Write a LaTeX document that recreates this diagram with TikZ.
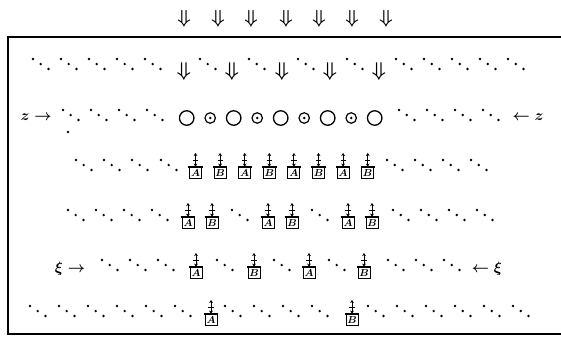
\documentclass[tikz,border=0pt]{standalone}
\usepackage{graphicx}
\usetikzlibrary{arrows.meta}
\begin{document}
\begin{tikzpicture}[x=1pt,y=-1pt,
  frame/.style={line width=1.1pt},
  dotg/.pic={\fill (0,0) circle (1.3) (7.7,5) circle (1.3) (15.5,10) circle (1.3);},
  gate/.pic={
    \draw[line width=1pt] (-6,0) rectangle (6,11.5);
    \draw[line width=1.1pt] (-7.2,0) -- (7.2,0);
    \draw[line width=0.9pt,-{Stealth[length=3pt,width=3.8pt]}] (0,-7) -- (0,-0.4);
    \draw[line width=0.9pt,-{Stealth[length=3pt,width=3.8pt]}] (0,-7) -- (0,-14);
    \draw[line width=0.9pt] (-2.6,-7) -- (2.6,-7);
    \node[inner sep=0pt] at (0,6) {\scalebox{1.12}{\boldmath\small$#1$}};},
  bigc/.style={circle,draw,line width=1.3pt,minimum size=14.5pt,inner sep=0pt},
  smallc/.style={circle,draw,line width=1.2pt,minimum size=10.5pt,inner sep=0pt},
  lbl/.style={inner sep=0pt},
  darr/.style={inner sep=0pt}]
\useasboundingbox (0,0) rectangle (561,338);
% frame
\coordinate (ftr) at (561,37);
\coordinate (ftl) at (8,37);
\coordinate (fbl) at (8,334);
\coordinate (fbr) at (561,334);
\draw[frame] (ftr) -- (ftl) -- (fbl) -- (fbr);
% top arrows
\foreach \x [count=\i] in {184,218,251,286,319,352,386}
  \node[darr] (t\i) at (\x,19) {\scalebox{1.9}{\boldmath$\Downarrow$}};
% row 1
\foreach \x in {33,61,89,117,145,200,249,298,347,396,424,452,480,508}
  \pic at (\x,59) {dotg};
\foreach \x [count=\i] in {184,232,282,330,379}
  \node[darr] (r\i) at (\x,71) {\scalebox{2.0}{\boldmath$\Downarrow$}};
% row 2
\node[lbl] (zl) at (36,117) {\scalebox{1.5}{\boldmath$z\rightarrow$}};
\node[lbl] (zr) at (528,117) {\scalebox{1.5}{\boldmath$\leftarrow z$}};
\foreach \x in {63,91,119,147,399,427,455,483}
  \pic at (\x,110) {dotg};
\fill (68,132) circle (1.3);
\foreach \k in {0,2,4,6,8}
  \node[bigc] (c\k) at ({186.7+23.5*\k},118) {};
\foreach \k in {1,3,5,7}
  {\node[smallc] (c\k) at ({186.7+23.5*\k},118) {};
   \fill ({186.7+23.5*\k},118) circle (1.4);}
% row 3
\foreach \x in {76,104,132,161,387,415,443,471}
  \pic at (\x,160) {dotg};
\foreach \k/\l in {0/A,1/B,2/A,3/B,4/A,5/B,6/A,7/B}
  \pic at ({195.5+24.6*\k},167) {gate=\l};
% row 4
\foreach \x in {68,96,124,152,232,312,393,421,449,477}
  \pic at (\x,210) {dotg};
\foreach \x/\l in {188/A,212/B,268/A,292/B,348/A,372/B}
  \pic at (\x,217) {gate=\l};
% row 5
\node[lbl] (xl) at (70,269) {\scalebox{1.5}{\boldmath$\xi\rightarrow$}};
\node[lbl] (xr) at (487,269) {\scalebox{1.5}{\boldmath$\leftarrow\xi$}};
\foreach \x in {102,130,158,217,274,329,388,416,444}
  \pic at (\x,260) {dotg};
\foreach \x/\l in {196/A,254/B,309/A,364/B}
  \pic at (\x,267) {gate=\l};
% row 6
\foreach \x in {30,59,88,117,146,175,225,254,283,312,368,397,426,455,484,513}
  \pic at (\x,306) {dotg};
\foreach \x/\l in {211/A,352/B}
  \pic at (\x,314) {gate=\l};
\end{tikzpicture}
\end{document}
